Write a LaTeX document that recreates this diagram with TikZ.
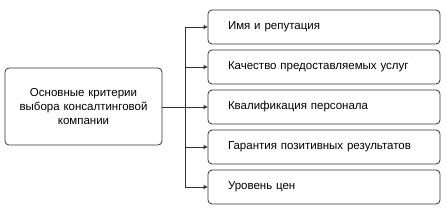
\documentclass[tikz,border=0pt]{standalone}
\usepackage{fontspec}
\setmainfont{Liberation Sans}
\usetikzlibrary{arrows.meta}

\begin{document}
\begin{tikzpicture}[
  x=1pt, y=-1pt,
  mainbox/.style={
    draw=black!80, rounded corners=4pt,
    minimum width=157pt, minimum height=77pt,
    text width=150pt, inner xsep=3pt,
    font=\fontsize{11.5pt}{14.3pt}\selectfont, align=center, line width=0.8pt
  },
  critbox/.style={
    draw=black!80, rounded corners=4pt,
    minimum height=34pt, text width=192pt, inner xsep=20pt,
    font=\fontsize{11.5pt}{13pt}\selectfont, align=left, line width=0.8pt
  },
  arr/.style={
    -{Triangle[length=4pt,width=4pt]}, color=black!80, line width=0.8pt
  }
]
\useasboundingbox (0,0) rectangle (446,215);

% Main criterion
\node[mainbox] (main) at (83.5, 106.5)
  {Основные критерии\\выбора консалтинговой\\компании};

% Criteria
\node[critbox] (name)    at (324, 27)  {Имя и репутация};
\node[critbox] (quality) at (324, 67)  {Качество предоставляемых услуг};
\node[critbox] (staff)   at (324, 107) {Квалификация персонала};
\node[critbox] (result)  at (324, 147) {Гарантия позитивных результатов};
\node[critbox] (price)   at (324, 187) {Уровень цен};

% Branching
\coordinate (trunk) at (185, 107);
\draw[line width=0.8pt, black!80] (main.east |- staff) -- (trunk);
\draw[line width=0.8pt, black!80] (trunk |- name) -- (trunk |- price);
\draw[arr] (trunk |- name)    -- (name.west);
\draw[arr] (trunk |- quality) -- (quality.west);
\draw[arr] (trunk |- staff)   -- (staff.west);
\draw[arr] (trunk |- result)  -- (result.west);
\draw[arr] (trunk |- price)   -- (price.west);

\end{tikzpicture}
\end{document}
